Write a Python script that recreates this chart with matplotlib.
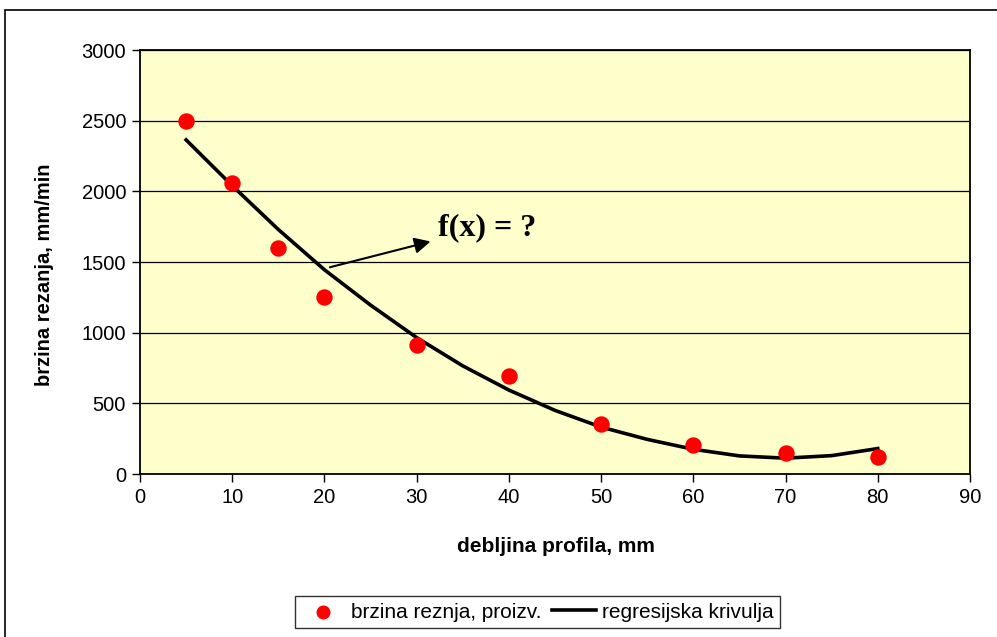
import matplotlib.pyplot as plt
from matplotlib.patches import Rectangle

# izmjereni podaci: debljina profila (mm) / brzina rezanja (mm/min)
debljina = [5, 10, 15, 20, 30, 40, 50, 60, 70, 80]
brzina = [2500, 2060, 1600, 1255, 910, 690, 355, 205, 150, 120]

# regresijska krivulja, ocitano sa slike
x_krivulja = [5, 10, 15, 20, 25, 30, 35, 40, 45, 50, 55, 60, 65, 70, 75, 80]
y_krivulja = [2364, 2040, 1730, 1445, 1195, 965, 765, 594, 450, 332, 245, 175, 128, 112, 130, 180]

x_ticks = [0, 10, 20, 30, 40, 50, 60, 70, 80, 90]
y_ticks = [0, 500, 1000, 1500, 2000, 2500, 3000]

plt.rcParams['font.family'] = ['Liberation Sans', 'DejaVu Sans']

fig = plt.figure(figsize=(9.97, 6.37), dpi=100)
ax = fig.add_axes([140/997, 1 - 474/637, 830/997, 424/637])
ax.set_facecolor('#FFFFCC')

for y in y_ticks[1:]:
    ax.axhline(y, color='black', lw=0.9, zorder=1)

ax.plot(x_krivulja, y_krivulja, color='black', lw=2.6, zorder=3,
        label='regresijska krivulja')
ax.scatter(debljina, brzina, s=140, color='red', zorder=4, linewidths=0,
           label='brzina reznja, proizv.')

ax.annotate('', xy=(31.8, 1650), xytext=(20.3, 1458),
            arrowprops=dict(arrowstyle='-|>', color='black', lw=1.5,
                            mutation_scale=24))
ax.text(32.3, 1745, 'f(x) = ?', family='Liberation Serif', fontweight='bold',
        fontsize=23, va='center', ha='left')

ax.set_xlim(0, 90)
ax.set_ylim(0, 3000)
ax.set_xticks(x_ticks)
ax.set_yticks(y_ticks)
ax.tick_params(labelsize=14.5, length=6, width=1, color='black', direction='out', pad=4)
for s in ax.spines.values():
    s.set_linewidth(1.3)

ax.set_xlabel('debljina profila, mm', fontsize=15, fontweight='bold', va='center')
ax.set_ylabel('brzina rezanja, mm/min', fontsize=14.5, fontweight='bold', va='center')
ax.xaxis.set_label_coords(0.5006, -0.172)
ax.yaxis.set_label_coords(-0.1145, 0.4705)

handles, labels = ax.get_legend_handles_labels()
leg = fig.legend([handles[1], handles[0]], [labels[1], labels[0]],
                 loc='center', bbox_to_anchor=(537.5/997, 1 - 612/637),
                 ncol=2, fontsize=15, frameon=True, fancybox=False,
                 edgecolor='black', handlelength=2.1, columnspacing=0.5,
                 handletextpad=0.3, borderpad=0.3, markerscale=0.85)
leg.get_frame().set_linewidth(1.0)

fig.patches.append(Rectangle((5/997, -0.02), 1.1, 1 - 10/637 + 0.02,
                             transform=fig.transFigure, fill=False,
                             edgecolor='black', lw=1.2))

fig.savefig('out.png', dpi=100)
